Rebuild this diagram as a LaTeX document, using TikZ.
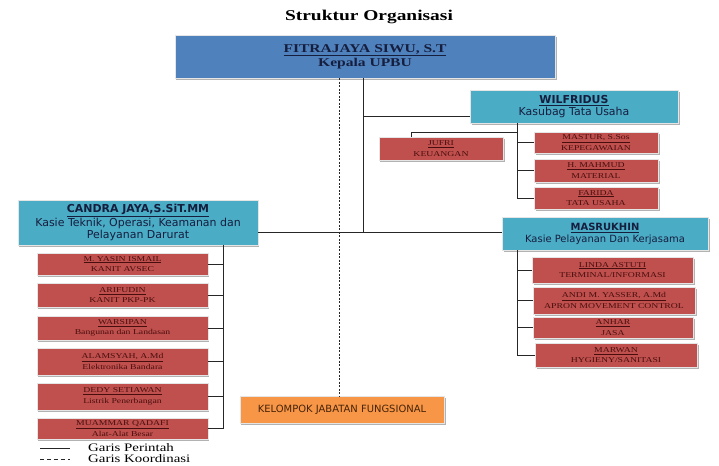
\documentclass[tikz,border=0pt]{standalone}
\usepackage{fontspec}
\setmainfont[FakeStretch=1.3]{Liberation Serif}
\newfontfamily\boxsans{DejaVu Sans}
\usepackage{tikz}
\usetikzlibrary{shadows}
\definecolor{HeadBlue}{RGB}{79,129,189}
\definecolor{KasieCyan}{RGB}{75,172,198}
\definecolor{StaffRed}{RGB}{192,80,77}
\definecolor{FungOrange}{RGB}{247,150,70}
\definecolor{InkNavy}{RGB}{22,30,62}
\definecolor{InkMaroon}{RGB}{72,14,14}
\definecolor{InkBrown}{RGB}{70,35,10}

\begin{document}
\begin{tikzpicture}[x=1bp, y=-1bp,
  box/.style={draw=white!80!gray, line width=0.5pt, align=center, inner sep=1pt,
    drop shadow={shadow xshift=1.5pt, shadow yshift=-2pt, fill=black!30, opacity=1}},
  headbox/.style={box, fill=HeadBlue, text=InkNavy, minimum width=380bp, minimum height=43bp},
  kasiebox/.style={box, fill=KasieCyan, text=InkNavy, font=\boxsans\fontsize{11}{12.5}\selectfont},
  staffbox/.style={box, fill=StaffRed, text=InkMaroon, font=\fontsize{7.5}{10.5}\selectfont},
  fungbox/.style={box, fill=FungOrange, text=InkBrown, font=\boxsans\fontsize{10}{12}\selectfont},
  link/.style={draw=black!85, line width=0.8pt},
  koord/.style={link, dash pattern=on 2pt off 1.5pt}]
  \fill[white] (0,0) rectangle (719,466);
  \useasboundingbox (0,0) rectangle (719,466);

  % judul dan kepala
  \node[font=\bfseries\fontsize{15}{17}\selectfont] (judul) at (369,17) {Struktur Organisasi};
  \node[headbox, font=\bfseries\fontsize{12}{14}\selectfont] (kepala) at (365,56.5)
    {\underline{FITRAJAYA SIWU, S.T}\\Kepala UPBU};

  % kasubag dan kasie
  \node[kasiebox, minimum width=208bp, minimum height=33bp] (tu) at (574,106.5)
    {{\bfseries\underline{WILFRIDUS}}\\Kasubag Tata Usaha};
  \node[kasiebox, minimum width=240bp, minimum height=45bp] (candra) at (138,222.5)
    {{\bfseries\underline{CANDRA JAYA,S.SiT.MM}}\\Kasie Teknik, Operasi, Keamanan dan\\Pelayanan Darurat};
  \node[kasiebox, minimum width=206bp, minimum height=33bp, font=\boxsans\fontsize{10}{12}\selectfont]
    (masrukhin) at (605,233.5)
    {{\bfseries\underline{MASRUKHIN}}\\Kasie Pelayanan Dan Kerjasama};

  % staf tata usaha
  \node[staffbox, minimum width=124bp, minimum height=23bp] (jufri) at (441,148.5)
    {\underline{JUFRI}\\KEUANGAN};
  \node[staffbox, minimum width=124bp, minimum height=21bp] (mastur) at (596,142.5)
    {\underline{MASTUR, S.Sos}\\KEPEGAWAIAN};
  \node[staffbox, minimum width=124bp, minimum height=23bp] (mahmud) at (596,170.5)
    {\underline{H. MAHMUD}\\MATERIAL};
  \node[staffbox, minimum width=124bp, minimum height=22bp] (farida) at (596,198)
    {\underline{FARIDA}\\TATA USAHA};

  % staf teknik
  \node[staffbox, minimum width=171bp, minimum height=22bp] (yasin) at (122.5,264)
    {\underline{M. YASIN ISMAIL}\\KANIT AVSEC};
  \node[staffbox, minimum width=171bp, minimum height=24bp] (arifudin) at (122.5,295)
    {\underline{ARIFUDIN}\\KANIT PKP-PK};
  \node[staffbox, minimum width=171bp, minimum height=24bp] (warsipan) at (122.5,328)
    {\underline{WARSIPAN}\\Bangunan dan Landasan};
  \node[staffbox, minimum width=171bp, minimum height=27bp] (alamsyah) at (122.5,361.5)
    {\underline{ALAMSYAH, A.Md}\\Elektronika Bandara};
  \node[staffbox, minimum width=171bp, minimum height=27bp] (dedy) at (122.5,396.5)
    {\underline{DEDY SETIAWAN}\\Listrik Penerbangan};
  \node[staffbox, minimum width=171bp, minimum height=21bp] (muammar) at (122.5,428.5)
    {\underline{MUAMMAR QADAFI}\\Alat-Alat Besar};

  % staf pelayanan
  \node[staffbox, minimum width=161bp, minimum height=26bp] (linda) at (612.5,270)
    {\underline{LINDA ASTUTI}\\TERMINAL/INFORMASI};
  \node[staffbox, minimum width=162bp, minimum height=27bp] (andi) at (614,300.5)
    {\underline{ANDI M. YASSER, A.Md}\\APRON MOVEMENT CONTROL};
  \node[staffbox, minimum width=160bp, minimum height=21bp] (anhar) at (613,327.5)
    {\underline{ANHAR}\\JASA};
  \node[staffbox, minimum width=162bp, minimum height=24bp] (marwan) at (616,355)
    {\underline{MARWAN}\\HYGIENY/SANITASI};

  \node[fungbox, minimum width=204bp, minimum height=27bp] (fungsional) at (342,409.5)
    {KELOMPOK JABATAN FUNGSIONAL};

  % garis perintah
  \coordinate (trunk) at (363,232);
  \coordinate (tuin) at ([yshift=-10pt]tu.west);
  \draw[link] (kepala.south -| trunk) -- (trunk);
  \draw[link] (tuin -| trunk) -- (tuin);
  \draw[link] (candra.east |- trunk) -- (masrukhin.west |- trunk);

  \coordinate (tustem) at (517,132);
  \draw[link] (tu.south -| tustem) -- (tustem |- farida.west) -- (farida.west);
  \draw[link] (tustem |- mastur.west) -- (mastur.west);
  \draw[link] (tustem |- mahmud.west) -- (mahmud.west);
  \draw[link] (tustem) -| ([xshift=-30pt]jufri.north);

  \coordinate (cstem) at (223,0);
  \draw[link] (candra.south -| cstem) -- (cstem |- muammar.east) -- (muammar.east);
  \draw[link] (cstem |- yasin.east) -- (yasin.east);
  \draw[link] (cstem |- arifudin.east) -- (arifudin.east);
  \draw[link] (cstem |- warsipan.east) -- (warsipan.east);
  \draw[link] (cstem |- alamsyah.east) -- (alamsyah.east);
  \draw[link] (cstem |- dedy.east) -- (dedy.east);

  \coordinate (mstem) at (517,0);
  \draw[link] (masrukhin.south -| mstem) -- (mstem |- marwan.west) -- (marwan.west);
  \draw[link] (mstem |- linda.west) -- (linda.west);
  \draw[link] (mstem |- andi.west) -- (andi.west);
  \draw[link] (mstem |- anhar.west) -- (anhar.west);

  % garis koordinasi
  \coordinate (koordtop) at ([xshift=-26pt]kepala.south);
  \draw[koord] (koordtop) -- (koordtop |- fungsional.north);

  % keterangan
  \coordinate (lpa) at (40,448);
  \coordinate (lpb) at (70,448);
  \coordinate (lka) at (40,459);
  \coordinate (lkb) at (70,459);
  \draw[link] (lpa) -- (lpb);
  \draw[koord, dash pattern=on 4pt off 3pt] (lka) -- (lkb);
  \node[anchor=west, font=\fontsize{11.5}{12}\selectfont, inner sep=0pt] (perintah) at (88,448) {Garis Perintah};
  \node[anchor=west, font=\fontsize{11.5}{12}\selectfont, inner sep=0pt] (koordinasi) at (88,459) {Garis Koordinasi};
\end{tikzpicture}
\end{document}
